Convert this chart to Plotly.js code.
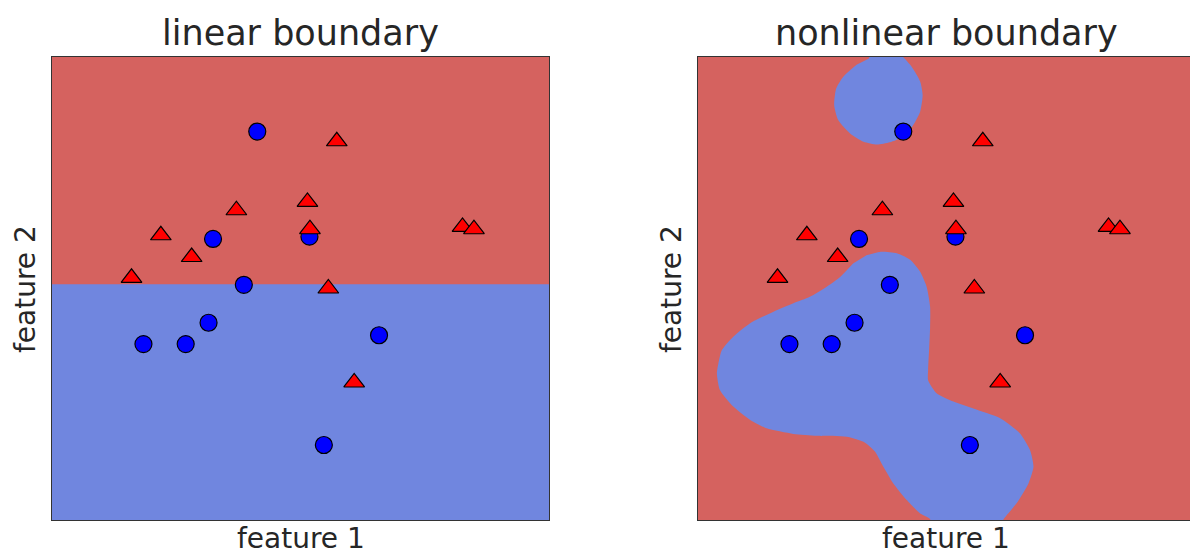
<!DOCTYPE html>
<html>
<head>
<meta charset="utf-8">
<script src="https://cdn.plot.ly/plotly-3.0.1.min.js"></script>
<style>
  html, body { margin: 0; padding: 0; background: #ffffff; overflow: hidden; }
  #chart { width: 1196px; height: 555px; }
</style>
</head>
<body>
<div id="chart"></div>
<script>
// ---- data (feature 1, feature 2) ----
const blueX = [4.13, 3.24, 5.18, 3.86, 3.15, 1.84, 2.69, 6.58, 5.47];
const blueY = [8.39, 6.07, 6.12, 5.08, 4.26, 3.80, 3.80, 3.99, 1.62];
const redX  = [5.73, 5.14, 3.71, 2.19, 5.19, 2.81, 1.60, 5.56, 8.26, 8.49, 6.08];
const redY  = [8.18, 6.87, 6.69, 6.15, 6.28, 5.68, 5.23, 5.00, 6.33, 6.28, 2.97];

// linear decision boundary (feature 2 value)
const linearBoundaryY = 5.09;

// nonlinear decision regions (class "blue") outlines
const topBlobX = [3.43, 3.56, 3.96, 4.27, 4.47, 4.52, 4.47, 4.33, 4.13, 3.86, 3.60, 3.33, 3.06, 2.82, 2.74, 2.78, 2.92, 3.19];
const topBlobY = [9.96, 10.15, 10.15, 9.83, 9.47, 9.18, 8.82, 8.53, 8.28, 8.16, 8.11, 8.17, 8.35, 8.64, 8.96, 9.32, 9.57, 9.83];
const mainBlobX = [3.39, 3.66, 4.00, 4.27, 4.47, 4.60, 4.67, 4.67, 4.65, 4.63, 4.63, 4.80, 5.14, 5.54, 6.08, 6.48, 6.68, 6.75, 6.65, 6.41, 6.14, 6.08, 4.67, 4.67, 4.47, 4.20, 3.93, 3.73, 3.56, 3.33, 2.99, 2.39, 1.92, 1.38, 1.05, 0.71, 0.44, 0.38, 0.41, 0.48, 0.71, 1.05, 1.52, 1.92, 2.25, 2.59, 2.86, 3.12];
const mainBlobY = [5.72, 5.79, 5.76, 5.62, 5.36, 5.04, 4.61, 4.17, 3.67, 3.24, 3.02, 2.74, 2.56, 2.41, 2.20, 1.87, 1.51, 1.15, 0.79, 0.36, 0.00, -0.22, -0.22, 0.02, 0.14, 0.43, 0.79, 1.15, 1.48, 1.69, 1.80, 1.82, 1.86, 1.98, 2.16, 2.45, 2.81, 3.17, 3.38, 3.67, 3.96, 4.25, 4.50, 4.68, 4.82, 5.04, 5.25, 5.54];

const xRange = [0, 10];
const yRange = [0, 10];

const redRegion = '#d5625f';
const blueRegion = '#7086df';

// ---- traces ----
function region(x, y, xa, ya, smooth) {
  return {
    type: 'scatter', mode: 'lines', x: x, y: y, xaxis: xa, yaxis: ya,
    fill: 'toself', fillcolor: blueRegion,
    line: { width: 0, color: blueRegion, shape: smooth ? 'spline' : 'linear', smoothing: 0.6 },
    hoverinfo: 'skip', showlegend: false
  };
}
function points(xa, ya) {
  return [
    { type: 'scatter', mode: 'markers', x: blueX, y: blueY, xaxis: xa, yaxis: ya,
      marker: { symbol: 'circle', size: 17, color: '#0000ff', line: { color: '#000000', width: 1.2 } },
      showlegend: false, cliponaxis: false },
    { type: 'scatter', mode: 'markers', x: redX, y: redY, xaxis: xa, yaxis: ya,
      marker: { symbol: 'triangle-up', size: 18, color: '#ff0000', line: { color: '#000000', width: 1.2 } },
      showlegend: false, cliponaxis: false }
  ];
}

const pad = 1;
const linRectX = [xRange[0] - pad, xRange[1] + pad, xRange[1] + pad, xRange[0] - pad];
const linRectY = [linearBoundaryY, linearBoundaryY, yRange[0] - pad, yRange[0] - pad];

const data = [
  region(linRectX, linRectY, 'x', 'y', false),
  ...points('x', 'y'),
  region(topBlobX, topBlobY, 'x2', 'y2', true),
  region(mainBlobX, mainBlobY, 'x2', 'y2', true),
  ...points('x2', 'y2')
];

const W = 1196, H = 555;
const px = v => v / W;
const py = v => 1 - v / H;

const axisCommon = {
  showticklabels: false, ticks: '', showgrid: false, zeroline: false,
  showline: true, mirror: true, linecolor: '#333333', linewidth: 1.3
};

const fontFam = 'DejaVu Sans, sans-serif';
const layout = {
  width: W, height: H,
  margin: { l: 0, r: 0, t: 0, b: 0 },
  paper_bgcolor: '#ffffff',
  plot_bgcolor: redRegion,
  showlegend: false,
  xaxis:  Object.assign({ domain: [px(52), px(549)], range: xRange, anchor: 'y' }, axisCommon),
  yaxis:  Object.assign({ domain: [py(520), py(57)], range: yRange, anchor: 'x' }, axisCommon),
  xaxis2: Object.assign({ domain: [px(698), px(1195)], range: xRange, anchor: 'y2' }, axisCommon),
  yaxis2: Object.assign({ domain: [py(520), py(57)], range: yRange, anchor: 'x2' }, axisCommon),
  annotations: [
    { text: 'linear boundary', xref: 'paper', yref: 'paper', x: px(300.5), y: py(33), xanchor: 'center', yanchor: 'middle', showarrow: false, font: { family: fontFam, size: 35, color: '#262626' } },
    { text: 'nonlinear boundary', xref: 'paper', yref: 'paper', x: px(946.5), y: py(33), xanchor: 'center', yanchor: 'middle', showarrow: false, font: { family: fontFam, size: 35, color: '#262626' } },
    { text: 'feature 1', xref: 'paper', yref: 'paper', x: px(300.5), y: py(538), xanchor: 'center', yanchor: 'middle', showarrow: false, font: { family: fontFam, size: 28, color: '#262626' } },
    { text: 'feature 1', xref: 'paper', yref: 'paper', x: px(946.5), y: py(538), xanchor: 'center', yanchor: 'middle', showarrow: false, font: { family: fontFam, size: 28, color: '#262626' } },
    { text: 'feature 2', xref: 'paper', yref: 'paper', x: px(25), y: py(289), xanchor: 'center', yanchor: 'middle', textangle: -90, showarrow: false, font: { family: fontFam, size: 28, color: '#262626' } },
    { text: 'feature 2', xref: 'paper', yref: 'paper', x: px(671), y: py(289), xanchor: 'center', yanchor: 'middle', textangle: -90, showarrow: false, font: { family: fontFam, size: 28, color: '#262626' } }
  ]
};

Plotly.newPlot('chart', data, layout, { displayModeBar: false, staticPlot: true });
</script>
</body>
</html>
